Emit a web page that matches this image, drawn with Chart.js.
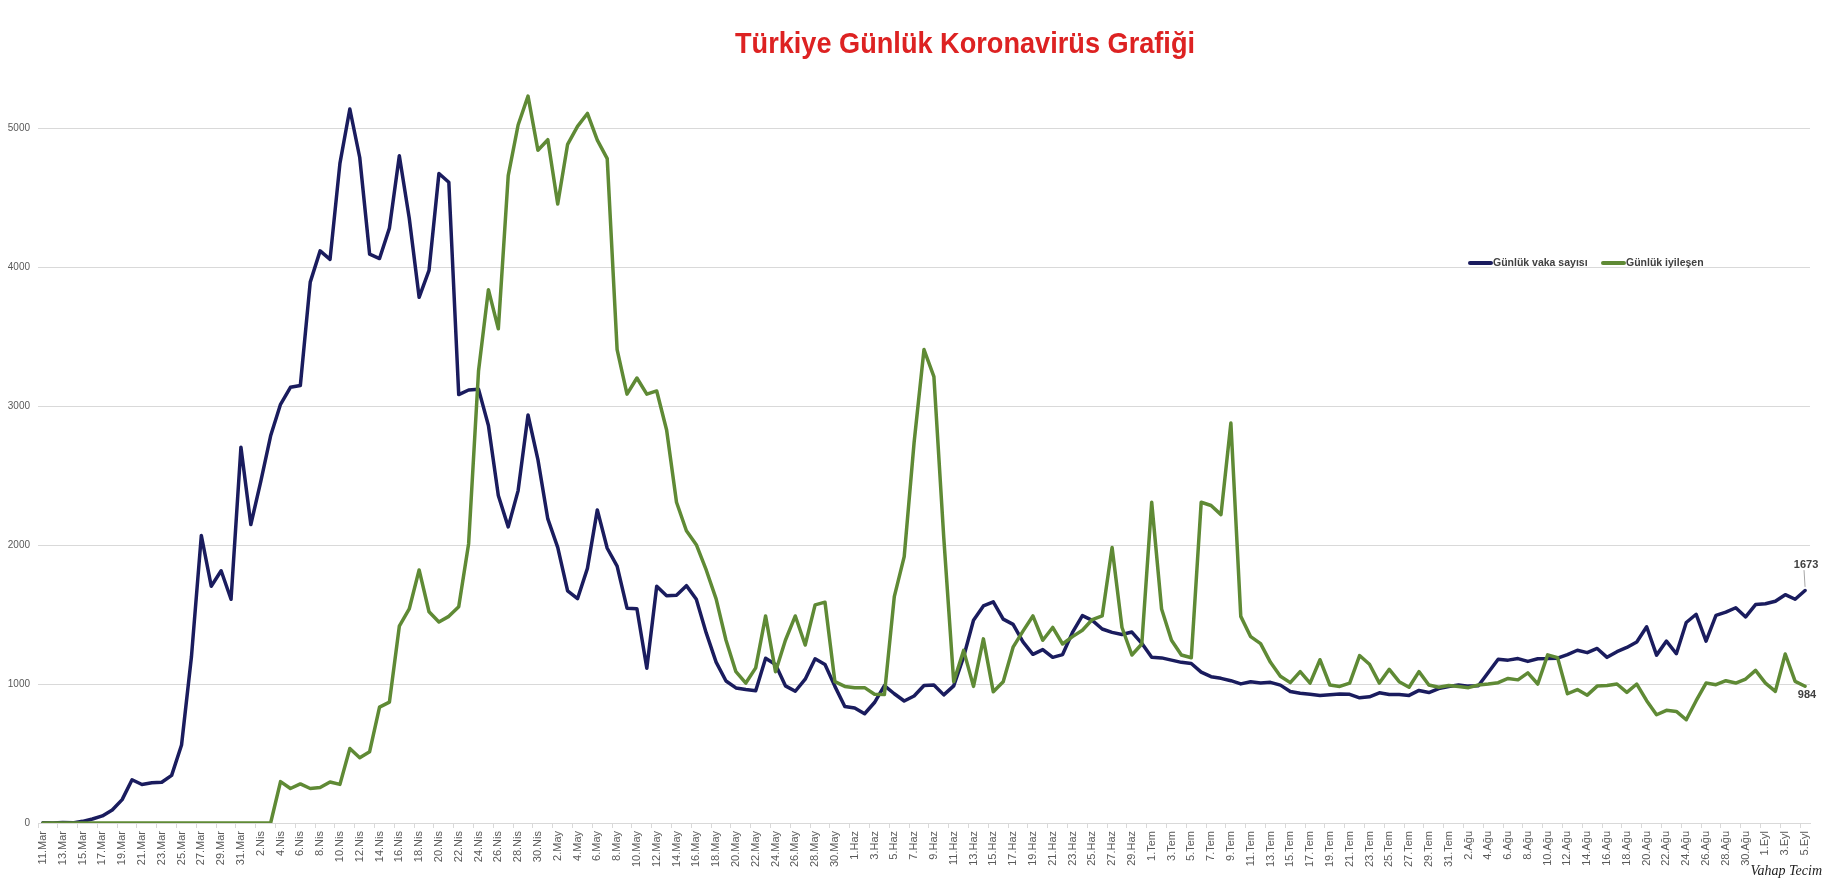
<!DOCTYPE html>
<html>
<head>
<meta charset="utf-8">
<title>Türkiye Günlük Koronavirüs Grafiği</title>
<script src="https://cdn.jsdelivr.net/npm/chart.js@4.4.0/dist/chart.umd.min.js"></script>
<style>
  html, body { margin: 0; padding: 0; background: #fff; }
  #wrap { width: 1827px; height: 881px; }
</style>
</head>
<body>
<div id="wrap"><canvas id="covidChart"></canvas></div>
<script>
// months shown on the axis: [name, first day, last day]
var months = [['Mar', 11, 31], ['Nis', 1, 30], ['May', 1, 31], ['Haz', 1, 30], ['Tem', 1, 31], ['Ağu', 1, 31], ['Eyl', 1, 5]];

var vakaMar = [1, 0, 4, 1, 12, 29, 51, 93, 168, 311, 277, 289, 293, 343, 561, 1196, 2069, 1704, 1815, 1610, 2704];
var vakaNis = [2148, 2456, 2786, 3013, 3135, 3148, 3892, 4117, 4056, 4747, 5138, 4789, 4093, 4062, 4281, 4801, 4353, 3783, 3977, 4674, 4611, 3083, 3116, 3122, 2861, 2357, 2131, 2392, 2936, 2615];
var vakaMay = [2188, 1983, 1670, 1614, 1832, 2253, 1977, 1848, 1546, 1542, 1114, 1704, 1635, 1639, 1708, 1610, 1368, 1158, 1022, 972, 961, 952, 1186, 1141, 987, 948, 1035, 1182, 1141, 983, 839];
var vakaHaz = [827, 786, 867, 988, 930, 878, 914, 989, 993, 922, 987, 1195, 1459, 1562, 1592, 1467, 1429, 1304, 1214, 1248, 1192, 1212, 1372, 1492, 1458, 1396, 1372, 1356, 1374, 1293];
var vakaTem = [1192, 1188, 1172, 1156, 1148, 1086, 1053, 1041, 1024, 1001, 1016, 1008, 1012, 992, 946, 933, 926, 918, 923, 928, 926, 901, 908, 937, 925, 924, 918, 954, 939, 967, 982];
var vakaAgu = [993, 985, 988, 1083, 1178, 1172, 1183, 1163, 1182, 1183, 1186, 1212, 1243, 1226, 1256, 1192, 1233, 1263, 1303, 1412, 1208, 1309, 1218, 1443, 1502, 1309, 1494, 1517, 1549, 1483, 1572];
var vakaEyl = [1578, 1596, 1643, 1610, 1673];

var iyiMar = [0, 0, 0, 0, 0, 0, 0, 0, 0, 0, 0, 0, 0, 0, 0, 0, 0, 0, 0, 0, 0];
var iyiNis = [0, 0, 0, 298, 248, 281, 248, 255, 295, 278, 536, 470, 513, 834, 870, 1416, 1540, 1821, 1520, 1447, 1487, 1556, 2010, 3252, 3838, 3556, 4659, 5023, 5231, 4841];
var iyiMay = [4917, 4454, 4884, 5013, 5106, 4914, 4781, 3407, 3086, 3202, 3086, 3109, 2828, 2308, 2103, 2003, 1821, 1613, 1315, 1089, 1007, 1116, 1490, 1089, 1315, 1490, 1281, 1570, 1589, 1017, 983];
var iyiHaz = [974, 974, 927, 924, 1629, 1917, 2738, 3407, 3212, 2050, 1017, 1242, 983, 1325, 944, 1017, 1265, 1381, 1490, 1315, 1407, 1288, 1341, 1387, 1464, 1490, 1983, 1407, 1209, 1288];
var iyiTem = [2308, 1540, 1315, 1209, 1189, 2308, 2285, 2219, 2878, 1487, 1341, 1291, 1156, 1056, 1010, 1089, 1007, 1175, 993, 983, 1007, 1205, 1142, 1007, 1106, 1017, 977, 1089, 993, 977, 990];
var iyiAgu = [983, 974, 993, 1000, 1010, 1040, 1030, 1080, 1000, 1210, 1190, 930, 960, 920, 985, 990, 1000, 940, 1000, 880, 779, 811, 803, 743, 880, 1007, 995, 1024, 1007, 1036, 1098];
var iyiEyl = [1007, 947, 1216, 1019, 984];

var yTicks = [0, 1000, 2000, 3000, 4000, 5000];

var labels = [];
months.forEach(function (m) {
    for (var d = m[1]; d <= m[2]; d++) labels.push(d + '.' + m[0]);
});
var vaka = [].concat(vakaMar, vakaNis, vakaMay, vakaHaz, vakaTem, vakaAgu, vakaEyl);
var iyilesen = [].concat(iyiMar, iyiNis, iyiMay, iyiHaz, iyiTem, iyiAgu, iyiEyl);

var blue = '#1a1c5e';
var green = '#5f8a35';
var gridColor = '#d9d9d9';

Chart.defaults.font.family = '"Liberation Sans", Arial, sans-serif';
Chart.defaults.color = '#595959';

// title, legend, end labels and signature
var overlay = {
    id: 'overlay',
    afterDraw: function (chart) {
        var ctx = chart.ctx;
        ctx.save();

        ctx.fillStyle = '#dd2222';
        ctx.font = 'bold 30px "Liberation Sans", Arial, sans-serif';
        ctx.textAlign = 'center';
        ctx.textBaseline = 'alphabetic';
        ctx.fillText('Türkiye Günlük Koronavirüs Grafiği', 965, 53, 460);

        var items = [[chart.data.datasets[0], 1470], [chart.data.datasets[1], 1603]];
        ctx.font = 'bold 10.5px "Liberation Sans", Arial, sans-serif';
        ctx.textAlign = 'left';
        ctx.textBaseline = 'middle';
        items.forEach(function (it) {
            ctx.strokeStyle = it[0].borderColor;
            ctx.lineWidth = 4;
            ctx.lineCap = 'round';
            ctx.beginPath();
            ctx.moveTo(it[1], 263);
            ctx.lineTo(it[1] + 21, 263);
            ctx.stroke();
            ctx.fillStyle = '#404040';
            ctx.fillText(it[0].label, it[1] + 23, 263);
        });

        var p0 = chart.getDatasetMeta(0).data[vaka.length - 1];
        var p1 = chart.getDatasetMeta(1).data[iyilesen.length - 1];
        ctx.fillStyle = '#404040';
        ctx.font = 'bold 11px "Liberation Sans", Arial, sans-serif';
        ctx.textAlign = 'center';
        ctx.fillText(String(vaka[vaka.length - 1]), p0.x + 1, p0.y - 26);
        ctx.strokeStyle = '#a6a6a6';
        ctx.lineWidth = 1;
        ctx.beginPath();
        ctx.moveTo(p0.x - 1, p0.y - 20);
        ctx.lineTo(p0.x, p0.y - 4);
        ctx.stroke();
        ctx.fillText(String(iyilesen[iyilesen.length - 1]), p1.x + 2, p1.y + 9);

        ctx.fillStyle = '#222';
        ctx.font = 'italic 14px "Liberation Serif", "DejaVu Serif", serif';
        ctx.textAlign = 'right';
        ctx.textBaseline = 'alphabetic';
        ctx.fillText('Vahap Tecim', 1822, 875);
        ctx.restore();
    }
};

var covidChart = new Chart(document.getElementById('covidChart').getContext('2d'), {
    type: 'line',
    data: {
        labels: labels,
        datasets: [{
            label: 'Günlük vaka sayısı',
            data: vaka,
            borderColor: blue,
            backgroundColor: blue,
            borderWidth: 3.5,
            pointRadius: 0,
            tension: 0,
            borderJoinStyle: 'round',
            borderCapStyle: 'round',
            order: 1
        }, {
            label: 'Günlük iyileşen',
            data: iyilesen,
            borderColor: green,
            backgroundColor: green,
            borderWidth: 3.5,
            pointRadius: 0,
            tension: 0,
            borderJoinStyle: 'round',
            borderCapStyle: 'round',
            order: 0
        }]
    },
    options: {
        responsive: true,
        maintainAspectRatio: false,
        animation: false,
        layout: { padding: { top: 17, right: 17, left: 0, bottom: 0 } },
        plugins: {
            legend: { display: false },
            title: { display: false },
            tooltip: { enabled: false }
        },
        scales: {
            x: {
                offset: true,
                grid: {
                    offset: true,
                    drawOnChartArea: false,
                    tickLength: 5,
                    tickColor: function (c) { return c.index % 2 === 0 ? gridColor : 'rgba(0,0,0,0)'; }
                },
                border: { color: gridColor },
                ticks: {
                    autoSkip: false,
                    maxRotation: 90,
                    minRotation: 90,
                    padding: 3,
                    font: { size: 11 },
                    callback: function (v, i) { return i % 2 === 0 ? labels[i] : ''; }
                },
                afterFit: function (s) { s.height = 58; }
            },
            y: {
                min: 0,
                max: 5800,
                grid: { color: gridColor, drawTicks: false },
                border: { display: false },
                afterBuildTicks: function (s) {
                    s.ticks = yTicks.map(function (v) { return { value: v }; });
                },
                ticks: {
                    padding: 8,
                    font: { size: 10 },
                    callback: function (v) { return String(v); }
                },
                afterFit: function (s) { s.width = 38; }
            }
        }
    },
    plugins: [overlay]
});
</script>
</body>
</html>
